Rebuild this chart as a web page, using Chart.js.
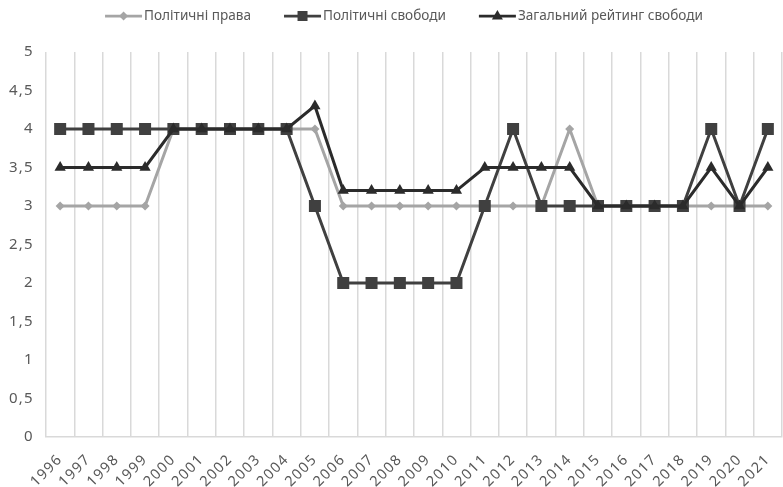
<!DOCTYPE html>
<html>
<head>
  <meta charset="utf-8" />
  <title>Рейтинг свободи 1996-2021</title>
  <script src="https://cdn.jsdelivr.net/npm/chart.js"></script>
  <style>
    html, body { margin: 0; padding: 0; background: #fff; }
    #wrap { width: 783px; height: 487px; }
  </style>
</head>
<body>
  <div id="wrap"><canvas id="chart" width="783" height="487"></canvas></div>
  <script>
    var years = ['1996', '1997', '1998', '1999', '2000', '2001', '2002', '2003', '2004', '2005', '2006', '2007', '2008',
      '2009', '2010', '2011', '2012', '2013', '2014', '2015', '2016', '2017', '2018', '2019', '2020', '2021'];
    var politicalRights = [3, 3, 3, 3, 4, 4, 4, 4, 4, 4, 3, 3, 3, 3, 3, 3, 3, 3, 4, 3, 3, 3, 3, 3, 3, 3];
    var politicalFreedoms = [4, 4, 4, 4, 4, 4, 4, 4, 4, 3, 2, 2, 2, 2, 2, 3, 4, 3, 3, 3, 3, 3, 3, 4, 3, 4];
    var freedomRating = [3.5, 3.5, 3.5, 3.5, 4, 4, 4, 4, 4, 4.3, 3.2, 3.2, 3.2, 3.2, 3.2, 3.5, 3.5, 3.5, 3.5, 3, 3, 3, 3, 3.5, 3, 3.5];
    var seriesNames = ['Політичні права', 'Політичні свободи', 'Загальний рейтинг свободи'];

    var colors = ['#a5a5a5', '#404040', '#2b2b2b'];
    var fontFamily = '"Noto Sans", "Open Sans", sans-serif';

    // legend drawn by hand: line with marker in the middle, like the original
    function drawMarker(ctx, style, x, y, color) {
      ctx.fillStyle = color;
      ctx.beginPath();
      if (style == 'diamond') {
        ctx.moveTo(x, y - 4.5); ctx.lineTo(x + 4.5, y); ctx.lineTo(x, y + 4.5); ctx.lineTo(x - 4.5, y);
      } else if (style == 'square') {
        ctx.rect(x - 5, y - 5, 10, 10);
      } else {
        ctx.moveTo(x, y - 6); ctx.lineTo(x + 5.5, y + 3.5); ctx.lineTo(x - 5.5, y + 3.5);
      }
      ctx.closePath();
      ctx.fill();
    }

    // the axis labels of the original are a little spaced out
    var spacingPlugin = {
      id: 'tickSpacing',
      beforeDraw: function(chart) { chart.ctx.letterSpacing = '1.3px'; },
      beforeDatasetsDraw: function(chart) { chart.ctx.letterSpacing = '0px'; }
    };

    var legendPlugin = {
      id: 'lineLegend',
      afterDraw: function(chart) {
        var ctx = chart.ctx;
        var styles = ['diamond', 'square', 'triangle'];
        var lineLen = 37, textGap = 2, itemGap = 33;
        ctx.save();
        ctx.letterSpacing = '0px';
        ctx.font = '13.6px ' + fontFamily;
        var widths = seriesNames.map(function(n) { return ctx.measureText(n).width; });
        var total = 0;
        widths.forEach(function(w, i) { total += lineLen + textGap + w + (i < widths.length - 1 ? itemGap : 0); });
        var x = 404 - total / 2;
        var y = 16;
        for (var i = 0; i < seriesNames.length; i++) {
          ctx.strokeStyle = colors[i];
          ctx.lineWidth = 2.75;
          ctx.beginPath();
          ctx.moveTo(x, y);
          ctx.lineTo(x + lineLen, y);
          ctx.stroke();
          drawMarker(ctx, styles[i], x + lineLen / 2, y, colors[i]);
          ctx.fillStyle = '#595959';
          ctx.textBaseline = 'middle';
          ctx.textAlign = 'left';
          ctx.fillText(seriesNames[i], x + lineLen + textGap, y);
          x += lineLen + textGap + widths[i] + itemGap;
        }
        ctx.restore();
      }
    };

    var ctx = document.getElementById('chart').getContext('2d');
    var chart = new Chart(ctx, {
      type: 'line',
      data: {
        labels: years,
        datasets: [{
          label: seriesNames[0],
          data: politicalRights,
          borderColor: colors[0],
          backgroundColor: colors[0],
          borderWidth: 3,
          pointStyle: 'rectRot',
          pointRadius: 4.5,
          pointBorderWidth: 0,
          order: 3
        }, {
          label: seriesNames[1],
          data: politicalFreedoms,
          borderColor: colors[1],
          backgroundColor: colors[1],
          borderWidth: 3,
          pointStyle: 'rect',
          pointRadius: 8.5,
          pointBorderWidth: 0,
          order: 2
        }, {
          label: seriesNames[2],
          data: freedomRating,
          borderColor: colors[2],
          backgroundColor: colors[2],
          borderWidth: 3,
          pointStyle: 'triangle',
          pointRadius: 6.5,
          pointBorderWidth: 0,
          order: 1
        }]
      },
      options: {
        responsive: false,
        animation: false,
        layout: { autoPadding: false, padding: { top: 52, right: 1, left: 0, bottom: 0 } },
        plugins: {
          legend: { display: false },
          tooltip: { enabled: false }
        },
        scales: {
          x: {
            offset: true,
            grid: { offset: true, color: '#d9d9d9', lineWidth: 1.5, drawTicks: false },
            border: { color: '#d9d9d9', width: 1.5 },
            ticks: {
              autoSkip: false,
              minRotation: 45,
              maxRotation: 45,
              padding: 14,
              color: '#595959',
              font: { family: fontFamily, size: 14.5 }
            },
            afterFit: function(scale) {
              scale.height = 50;
              scale.paddingLeft = 0;
              scale.paddingRight = 0;
            }
          },
          y: {
            min: 0,
            max: 5,
            grid: { display: false, drawTicks: false, tickLength: 0 },
            border: { display: false },
            ticks: {
              stepSize: 0.5,
              padding: 12,
              color: '#595959',
              font: { family: fontFamily, size: 15 },
              callback: function(v) { return String(v).replace('.', ','); }
            },
            afterFit: function(scale) { scale.width = 46; }
          }
        }
      },
      plugins: [spacingPlugin, legendPlugin]
    });
  </script>
</body>
</html>
